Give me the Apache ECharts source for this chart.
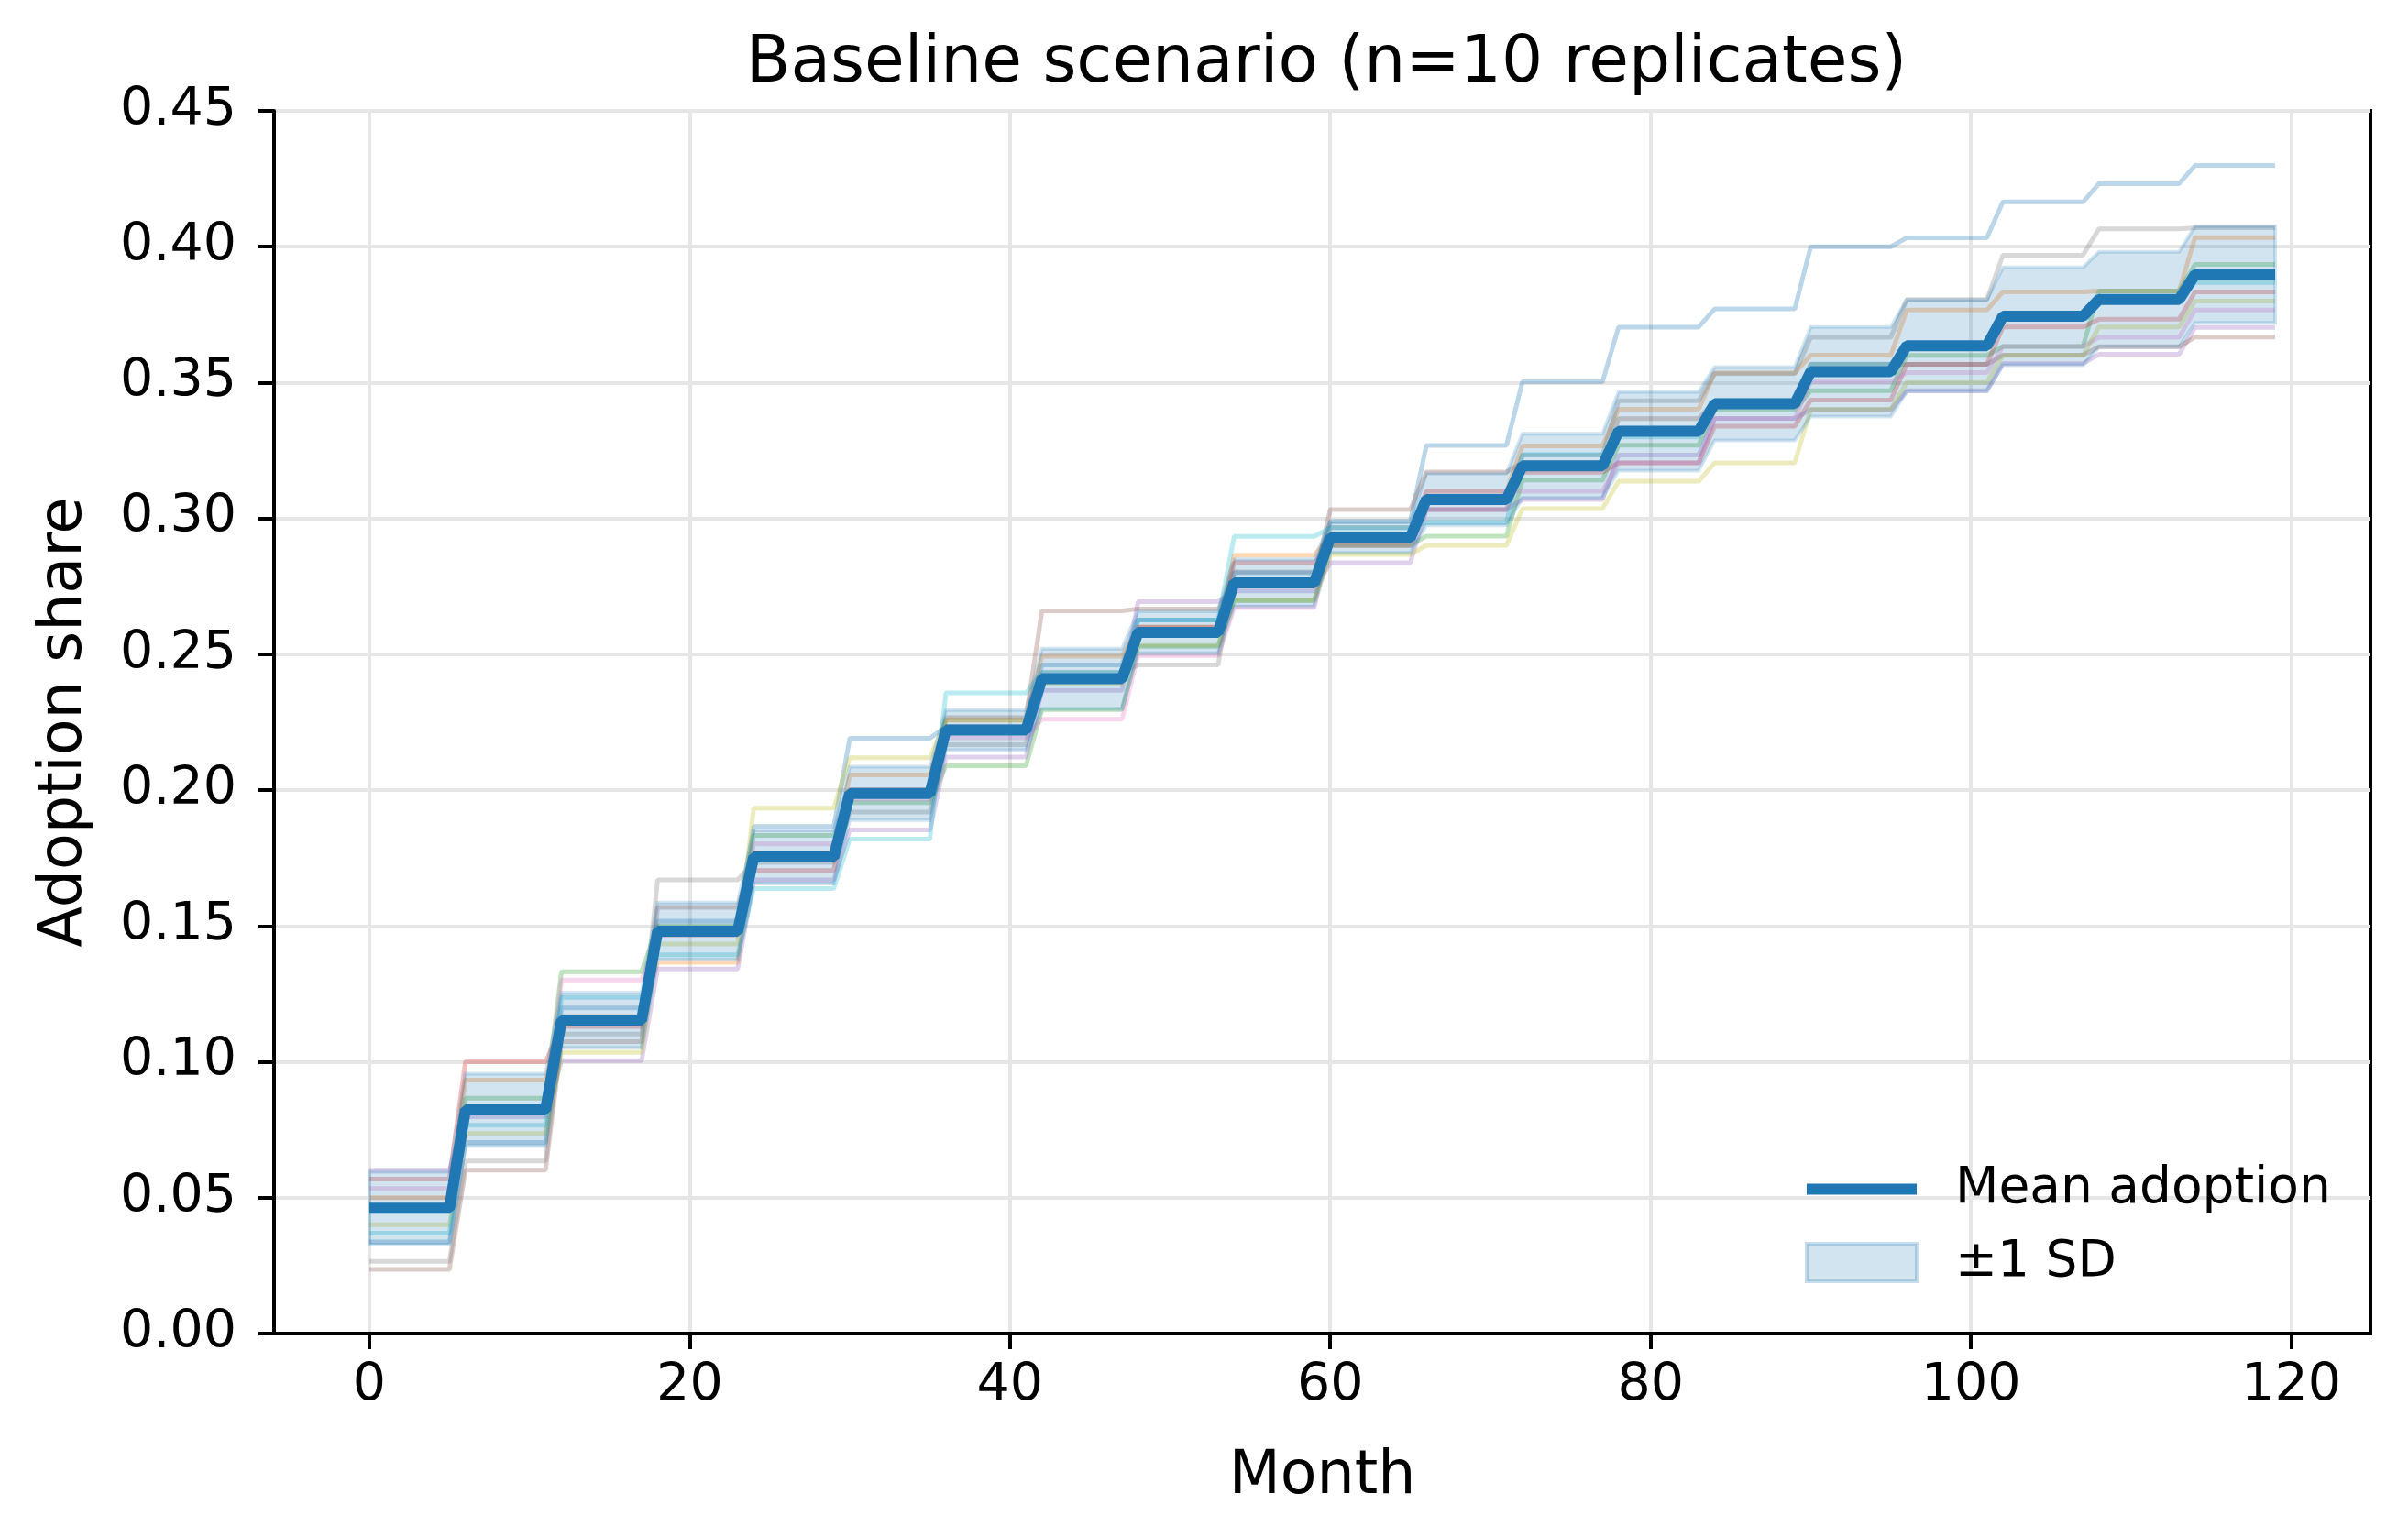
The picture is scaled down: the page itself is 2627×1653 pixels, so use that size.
<!DOCTYPE html>
<html>
<head>
<meta charset="utf-8">
<script src="https://cdn.jsdelivr.net/npm/echarts@6/dist/echarts.min.js"></script>
<style>
html,body{margin:0;padding:0;background:#fff;}
#chart{width:2627px;height:1653px;}
</style>
</head>
<body>
<div id="chart"></div>
<script>
// Each block value holds from monthStarts[i] to monthEnds[i]
const monthStarts = [0,6,12,18,24,30,36,42,48,54,60,66,72,78,84,90,96,102,108,114];
const monthEnds   = [5,11,17,23,29,35,41,47,53,59,65,71,77,83,89,95,101,107,113,119];

const meanAdoption = [0.0461,0.0823,0.1153,0.1481,0.1754,0.1988,0.2221,0.2410,0.2581,0.2763,0.2929,0.3070,0.3194,0.3321,0.3422,0.3540,0.3636,0.3744,0.3806,0.3898];
const sdAdoption   = [0.0134,0.0133,0.0101,0.0105,0.0098,0.0098,0.0074,0.0111,0.0077,0.0087,0.0056,0.0096,0.0118,0.0145,0.0135,0.0165,0.0168,0.0180,0.0175,0.0178];

const replicate01 = [0.0337,0.0703,0.1198,0.1518,0.1866,0.2191,0.2233,0.2461,0.2626,0.2800,0.2990,0.3269,0.3503,0.3704,0.3771,0.4000,0.4033,0.4165,0.4232,0.4299];
const replicate02 = [0.0500,0.0933,0.1167,0.1366,0.1767,0.2056,0.2258,0.2493,0.2600,0.2865,0.2933,0.3100,0.3267,0.3402,0.3535,0.3601,0.3767,0.3834,0.3837,0.4034];
const replicate03 = [0.0467,0.0866,0.1332,0.1500,0.1833,0.1954,0.2090,0.2296,0.2529,0.2697,0.2900,0.2935,0.3141,0.3270,0.3400,0.3470,0.3600,0.3633,0.3837,0.3935];
const replicate04 = [0.0568,0.1000,0.1130,0.1467,0.1704,0.2000,0.2233,0.2400,0.2600,0.2837,0.2901,0.3033,0.3170,0.3205,0.3340,0.3436,0.3567,0.3705,0.3733,0.3834];
const replicate05 = [0.0601,0.0798,0.1004,0.1342,0.1670,0.1854,0.2122,0.2367,0.2694,0.2733,0.2837,0.3033,0.3070,0.3233,0.3368,0.3400,0.3470,0.3570,0.3604,0.3703];
const replicate06 = [0.0236,0.0601,0.1074,0.1569,0.1767,0.2000,0.2267,0.2660,0.2667,0.2767,0.3033,0.3171,0.3204,0.3367,0.3433,0.3567,0.3567,0.3601,0.3632,0.3668];
const replicate07 = [0.0534,0.0833,0.1301,0.1467,0.1802,0.1967,0.2193,0.2261,0.2495,0.2672,0.2933,0.3100,0.3100,0.3205,0.3367,0.3503,0.3537,0.3633,0.3667,0.3767];
const replicate08 = [0.0266,0.0635,0.1102,0.1670,0.1734,0.1919,0.2167,0.2433,0.2461,0.2803,0.2967,0.3067,0.3233,0.3433,0.3533,0.3667,0.3806,0.3969,0.4066,0.4070];
const replicate09 = [0.0401,0.0736,0.1035,0.1434,0.1934,0.2119,0.2258,0.2392,0.2533,0.2700,0.2867,0.2901,0.3036,0.3137,0.3205,0.3402,0.3501,0.3600,0.3705,0.3800];
const replicate10 = [0.0369,0.0767,0.1237,0.1394,0.1638,0.1820,0.2358,0.2433,0.2626,0.2934,0.2965,0.2985,0.3235,0.3300,0.3433,0.3568,0.3633,0.3733,0.3800,0.3868];

const replicateColors = ['31,119,180','255,127,14','44,160,44','214,39,40','148,103,189','140,86,75','227,119,194','127,127,127','188,189,34','23,190,207'];
const xTicks = [0,20,40,60,80,100,120];

const replicates = [replicate01,replicate02,replicate03,replicate04,replicate05,replicate06,replicate07,replicate08,replicate09,replicate10];

function stepPoints(vals){
  const pts = [];
  vals.forEach((v,i)=>{ pts.push([monthStarts[i], v]); pts.push([monthEnds[i], v]); });
  return pts;
}

const FONT = 'DejaVu Sans';
const series = [];
replicates.forEach((r,k)=>{
  series.push({
    type:'line', name:'rep'+(k+1), data: stepPoints(r), showSymbol:false, symbol:'none', silent:true,
    lineStyle:{width:5, color:'rgba('+replicateColors[k]+',0.3)'}, z:2
  });
});

// ±1 SD band polygon: upper edge forward, lower edge backward
const upperPts = stepPoints(meanAdoption.map((m,i)=>m + sdAdoption[i]));
const lowerPts = stepPoints(meanAdoption.map((m,i)=>m - sdAdoption[i]));
const bandData = upperPts.map((p,i)=>[p[0], lowerPts[i][1], p[1]]);
series.push({
  type:'custom', name:'±1 SD', silent:true, z:3,
  data: [0],
  itemStyle:{color:'rgba(31,119,180,0.2)'},
  renderItem:function(params, api){
    const pts = [];
    bandData.forEach(d=>pts.push(api.coord([d[0], d[2]])));
    for (let i=bandData.length-1;i>=0;i--) pts.push(api.coord([bandData[i][0], bandData[i][1]]));
    return {
      type:'polygon', shape:{points:pts},
      style:{fill:'rgba(31,119,180,0.2)', stroke:'rgba(31,119,180,0.2)', lineWidth:4}
    };
  }
});
series.push({
  type:'line', name:'Mean adoption', data: stepPoints(meanAdoption), showSymbol:false, symbol:'none', silent:true,
  lineStyle:{width:12, color:'#1f77b4'}, itemStyle:{color:'#1f77b4'}, z:4
});

const chart = echarts.init(document.getElementById('chart'), null, {renderer:'canvas'});
chart.setOption({
  animation:false,
  backgroundColor:'#ffffff',
  title:{
    text:'Baseline scenario (n=10 replicates)', left:1442, top:30, textAlign:'center',
    textStyle:{fontFamily:FONT, fontSize:71, fontWeight:'normal', color:'#000'}
  },
  legend:{
    data:[
      {name:'Mean adoption', itemStyle:{opacity:0}},
      {name:'±1 SD', icon:'rect', itemStyle:{color:'rgba(31,119,180,0.2)', borderColor:'rgba(31,119,180,0.25)', borderWidth:4}}
    ],
    orient:'vertical', left:1960, top:1265, itemWidth:120, itemHeight:41, itemGap:25,
    selectedMode:false,
    lineStyle:{width:12},
    textStyle:{fontFamily:FONT, fontSize:55, color:'#000', padding:[0,0,0,37]}
  },
  grid:{left:299, right:41, top:121, bottom:198, show:true, borderColor:'#000', borderWidth:4, backgroundColor:'transparent'},
  xAxis:{
    type:'value', min:-5.95, max:124.95, splitNumber:7,
    name:'Month', nameLocation:'middle', nameGap:157,
    nameTextStyle:{fontFamily:FONT, fontSize:65, color:'#000', verticalAlign:'middle'},
    axisLine:{show:true, onZero:false, lineStyle:{color:'#000', width:4}},
    axisTick:{show:true, length:17, lineStyle:{color:'#000', width:4}, customValues:xTicks},
    axisLabel:{fontFamily:FONT, fontSize:57, color:'#000', margin:30, customValues:xTicks},
    splitLine:{show:true, lineStyle:{color:'#e6e6e6', width:4}}
  },
  yAxis:{
    type:'value', min:0, max:0.45, interval:0.05,
    name:'Adoption share', nameLocation:'middle', nameGap:228, nameRotate:90,
    nameTextStyle:{fontFamily:FONT, fontSize:65, color:'#000', verticalAlign:'middle'},
    axisLine:{show:true, onZero:false, lineStyle:{color:'#000', width:4}},
    axisTick:{show:true, length:17, lineStyle:{color:'#000', width:4}},
    axisLabel:{fontFamily:FONT, fontSize:57, color:'#000', margin:41, formatter:(v)=>v.toFixed(2)},
    splitLine:{show:true, lineStyle:{color:'#e6e6e6', width:4}}
  },
  series: series
});
</script>
</body>
</html>
